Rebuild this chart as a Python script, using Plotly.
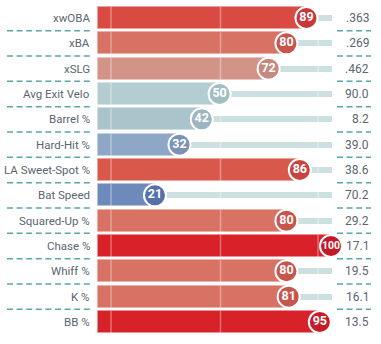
import plotly.graph_objects as go

metrics = ["xwOBA", "xBA", "xSLG", "Avg Exit Velo", "Barrel %", "Hard-Hit %",
           "LA Sweet-Spot %", "Bat Speed", "Squared-Up %", "Chase %", "Whiff %", "K %", "BB %"]
percentiles = [89, 80, 72, 50, 42, 32, 86, 21, 80, 100, 80, 81, 95]
values = [".363", ".269", ".462", "90.0", "8.2", "39.0", "38.6", "70.2", "29.2", "17.1", "19.5", "16.1", "13.5"]

# style: colours per percentile
bar_colors = {89: "#d84a42", 80: "#d77264", 81: "#d77264", 72: "#d29489", 50: "#b3cdd0",
              42: "#a9c4cb", 32: "#8ea7c7", 86: "#d8584b", 21: "#6e8abb", 100: "#d82129", 95: "#d8222a"}
circ_colors = {89: "#c8373a", 80: "#c7554b", 81: "#c7554b", 72: "#c6897d", 50: "#a3bec3",
               42: "#9bb6bf", 32: "#7b93b8", 86: "#c9443e", 21: "#5670aa", 100: "#c41a26", 95: "#c71c27"}
edge_colors = {89: "#eea09a", 80: "#eeb0a6", 81: "#eeb0a6", 72: "#ecc4bd", 50: "#d6e5e7",
               42: "#d0e0e4", 32: "#c3d1e2", 86: "#eea69c", 21: "#b2c2de", 100: "#ee8f93", 95: "#ee8f93"}

W, H = 381, 344
px_per = 2.228
x0_px = 108.2
row0, row_h = 18.0, 25.33

def px2x(p):
    return (p - x0_px) / px_per

n = len(metrics)
ys = list(range(n))
base = px2x(98)
track_end = px2x(332)

fig = go.Figure()
# track
fig.add_trace(go.Bar(y=ys, x=[track_end - base] * n, base=[base] * n, orientation="h",
                     width=6 / row_h, marker=dict(color="#cde0e1", line=dict(width=0)),
                     hoverinfo="skip", showlegend=False))
# bars
fig.add_trace(go.Bar(y=ys, x=[p - base for p in percentiles], base=[base] * n, orientation="h",
                     width=22 / row_h,
                     marker=dict(color=[bar_colors[p] for p in percentiles],
                                 line=dict(color=[edge_colors[p] for p in percentiles], width=1)),
                     hoverinfo="skip", showlegend=False))
fig.update_layout(barmode="overlay")

# light vertical guide lines
lx, ly = [], []
for xp in [111, 220.5, 318]:
    for i in range(n):
        lx += [px2x(xp), px2x(xp), None]
        ly += [i - 11 / row_h, i + 11 / row_h, None]
fig.add_trace(go.Scatter(x=lx, y=ly, mode="lines", line=dict(color="rgba(255,255,255,0.35)", width=1.5),
                         hoverinfo="skip", showlegend=False))

# circles
fig.add_trace(go.Scatter(
    x=percentiles, y=ys, mode="markers+text",
    marker=dict(size=22, color=[circ_colors[p] for p in percentiles], line=dict(color="white", width=2)),
    text=[str(p) for p in percentiles], textposition="middle center",
    textfont=dict(color="white", size=[12.5 if p < 100 else 10.5 for p in percentiles], family="Roboto", weight="bold"),
    hoverinfo="skip", showlegend=False, cliponaxis=False))

anns = []
for i, (m, v) in enumerate(zip(metrics, values)):
    anns.append(dict(x=92 / W, xref="paper", y=i, yref="y", text=m, showarrow=False, xanchor="right",
                     yanchor="middle", font=dict(family="Roboto", size=11.5, color="#5b6570")))
    anns.append(dict(x=370.5 / W, xref="paper", y=i, yref="y", text=v, showarrow=False, xanchor="right",
                     yanchor="middle", font=dict(family="Roboto", size=12, color="#5b6570")))

shapes = []
for i in range(n - 1):
    yy = i + 0.5
    for (a, b) in [(7, 93), (337, 371)]:
        shapes.append(dict(type="line", xref="paper", yref="y", x0=a / W, x1=b / W, y0=yy, y1=yy,
                           line=dict(color="#5aa6aa", width=1.5, dash="6px,3.6px")))

fig.update_layout(
    width=W, height=H, margin=dict(l=0, r=0, t=0, b=0),
    paper_bgcolor="white", plot_bgcolor="white",
    xaxis=dict(range=[px2x(0), px2x(W)], visible=False, fixedrange=True),
    yaxis=dict(range=[(H - row0) / row_h, -row0 / row_h], visible=False, fixedrange=True),
    annotations=anns, shapes=shapes, bargap=0,
)
fig.write_html("out.html")
